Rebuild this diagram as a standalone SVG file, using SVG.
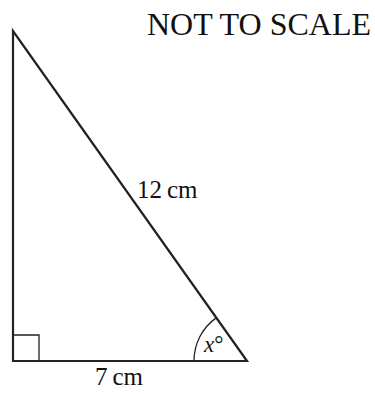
<svg xmlns="http://www.w3.org/2000/svg" width="375" height="394" viewBox="0 0 375 394">
<style>
.t{font-family:"Liberation Serif","Times New Roman",serif;fill:#111}
.s{stroke:#222;fill:none}
</style>
<rect width="375" height="394" fill="#fff"/>
<g id="triangle">
<path class="s" stroke-width="2.2" d="M13 31 L13 361 L247 361 Z" stroke-linejoin="miter"/>
</g>
<g id="right-angle">
<path class="s" stroke-width="1.3" d="M13 335 L39 335 L39 361"/>
</g>
<g id="angle-arc">
<path class="s" stroke-width="1.3" d="M194 361 A53 53 0 0 1 216.5 317.6"/>
</g>
<g id="labels">
<text class="t" x="147" y="35" font-size="32">NOT TO SCALE</text>
<text class="t" x="137" y="198" font-size="25">12&#8201;cm</text>
<text class="t" x="95" y="385" font-size="25">7&#8201;cm</text>
<text class="t" x="204" y="352" font-size="23"><tspan font-style="italic">x</tspan>°</text>
</g>
</svg>
